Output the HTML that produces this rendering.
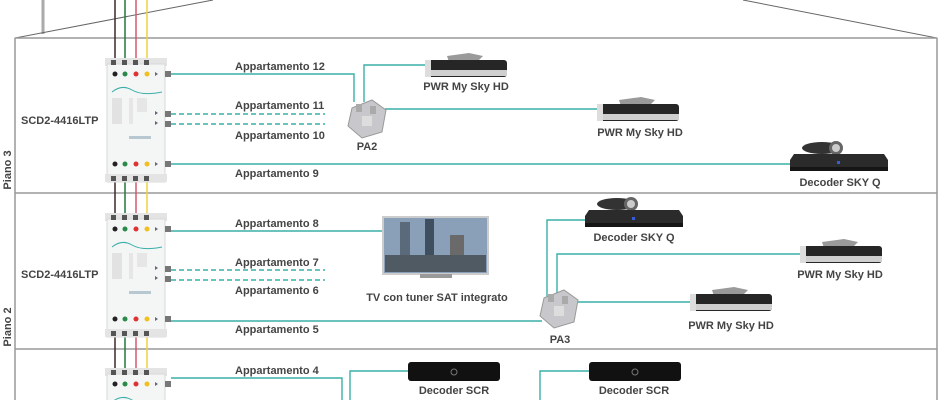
<!DOCTYPE html>
<html><head><meta charset="utf-8"><style>
html,body{margin:0;padding:0;background:#fff;width:940px;height:400px;overflow:hidden;}
svg{display:block;}
text{font-family:"Liberation Sans",sans-serif;font-weight:bold;font-size:11px;fill:#444;}
</style></head><body>
<svg width="940" height="400" viewBox="0 0 940 400" xmlns="http://www.w3.org/2000/svg">
<defs>
<g id="ms">
  <rect x="-2" y="0" width="62" height="8" fill="#e4e4e4"/>
  <rect x="0" y="6" width="58" height="118" fill="#f4f5f5" stroke="#d8d8d8"/>
  <rect x="4" y="2" width="5" height="5" fill="#555"/><rect x="15" y="2" width="5" height="5" fill="#555"/>
  <rect x="26" y="2" width="5" height="5" fill="#555"/><rect x="37" y="2" width="5" height="5" fill="#555"/>
  <circle cx="8" cy="16" r="2.5" fill="#222"/><circle cx="18" cy="16" r="2.5" fill="#2a8a4a"/>
  <circle cx="29" cy="16" r="2.5" fill="#d33"/><circle cx="40" cy="16" r="2.5" fill="#f0c020"/>
  <path d="M48 14l3 2-3 2z" fill="#667"/>
  <rect x="58" y="13" width="6" height="6" fill="#777"/>
  <path d="M5 34q10-8 20-2t30 2" stroke="#3aafa9" fill="none"/>
  <rect x="5" y="40" width="10" height="26" fill="#e2e2e2"/><rect x="22" y="40" width="4" height="26" fill="#e6e6e6"/>
  <rect x="30" y="40" width="10" height="14" fill="#e6e6e6"/>
  <rect x="22" y="78" width="22" height="3" fill="#b8c8d0"/>
  <path d="M48 53l3 2-3 2z M48 63l3 2-3 2z" fill="#667"/>
  <rect x="58" y="53" width="6" height="6" fill="#777"/><rect x="58" y="63" width="6" height="6" fill="#777"/>
  <circle cx="8" cy="106" r="2.5" fill="#222"/><circle cx="18" cy="106" r="2.5" fill="#2a8a4a"/>
  <circle cx="29" cy="106" r="2.5" fill="#d33"/><circle cx="40" cy="106" r="2.5" fill="#f0c020"/>
  <path d="M48 104l3 2-3 2z" fill="#667"/>
  <rect x="58" y="103" width="6" height="6" fill="#777"/>
  <rect x="-2" y="116" width="62" height="8" fill="#e4e4e4"/>
  <rect x="4" y="118" width="5" height="5" fill="#555"/><rect x="15" y="118" width="5" height="5" fill="#555"/>
  <rect x="26" y="118" width="5" height="5" fill="#555"/><rect x="37" y="118" width="5" height="5" fill="#555"/>
</g>
<g id="pwr">
  <path d="M22 4l22-3 14 3-6 6-28 0z" fill="#9a9a9a"/>
  <rect x="0" y="8" width="82" height="17" rx="3" fill="#262626"/>
  <rect x="0" y="18" width="82" height="6" fill="#cfcfcf"/>
  <rect x="0" y="8" width="6" height="17" fill="#ddd"/>
</g>
<g id="skyq">
  <ellipse cx="32" cy="8" rx="20" ry="6" fill="#333"/><circle cx="46" cy="8" r="7" fill="#666"/><circle cx="46" cy="8" r="4" fill="#ccc"/>
  <path d="M4 14h90l4 6v10H0V20z" fill="#2b2b2b"/><rect x="0" y="27" width="98" height="4" fill="#151515"/>
  <rect x="47" y="21" width="3" height="3" fill="#3a5cd8"/>
</g>
<g id="scr"><rect x="0" y="0" width="92" height="19" rx="3" fill="#111"/><circle cx="46" cy="10" r="3" fill="none" stroke="#777"/></g>
<g id="pa"><path d="M6 8l20-8 14 10-4 22-20 6-14-12z" fill="#c8c8cc" stroke="#999"/><rect x="10" y="4" width="6" height="8" fill="#aaa"/><rect x="24" y="6" width="6" height="8" fill="#aaa"/><rect x="16" y="16" width="10" height="10" fill="#ddd"/></g>
</defs>

<line x1="43" y1="0" x2="43" y2="34" stroke="#aaa" stroke-width="3"/>
<polyline points="213,0 15,38 15,400" fill="none" stroke="#666" stroke-width="1"/>
<polyline points="743,0 937,38 937,400" fill="none" stroke="#666" stroke-width="1"/>
<line x1="15" y1="38" x2="937" y2="38" stroke="#999" stroke-width="1.5"/>
<line x1="15" y1="193" x2="937" y2="193" stroke="#999" stroke-width="1.5"/>
<line x1="15" y1="349" x2="937" y2="349" stroke="#999" stroke-width="1.5"/>

<g stroke-width="1.5">
<line x1="115" y1="0" x2="115" y2="400" stroke="#3a2a2a"/>
<line x1="125" y1="0" x2="125" y2="400" stroke="#1f7a3f"/>
<line x1="136" y1="0" x2="136" y2="400" stroke="#d45a6a"/>
<line x1="147" y1="0" x2="147" y2="400" stroke="#f0d040"/>
</g>
<use href="#ms" x="107" y="58"/>
<use href="#ms" x="107" y="213"/>
<use href="#ms" x="107" y="368"/>

<text x="8" y="170" transform="rotate(-90 8 170)" text-anchor="middle" dominant-baseline="middle">Piano 3</text>
<text x="8" y="327" transform="rotate(-90 8 327)" text-anchor="middle" dominant-baseline="middle">Piano 2</text>
<text x="21" y="124">SCD2-4416LTP</text>
<text x="21" y="278">SCD2-4416LTP</text>

<g stroke="#3aafa9" stroke-width="1.4" fill="none">
<polyline points="171,74 354,74 354,102"/>
<polyline points="364,102 364,65 425,65"/>
<polyline points="385,109 597,109"/>
<polyline points="171,164 792,164"/>
<line x1="171" y1="114" x2="325" y2="114" stroke-dasharray="5,3"/>
<line x1="171" y1="124" x2="325" y2="124" stroke-dasharray="5,3"/>
<polyline points="171,231 383,231"/>
<line x1="171" y1="270" x2="325" y2="270" stroke-dasharray="5,3"/>
<line x1="171" y1="280" x2="325" y2="280" stroke-dasharray="5,3"/>
<polyline points="171,321 542,321"/>
<polyline points="547,300 547,220 585,220"/>
<polyline points="557,300 557,254 800,254"/>
<polyline points="570,302 690,302"/>
<polyline points="171,378 342,378 342,400"/>
<polyline points="350,400 350,371 408,371"/>
<polyline points="540,400 540,371 589,371"/>
</g>

<text x="235" y="70">Appartamento 12</text>
<text x="235" y="109">Appartamento 11</text>
<text x="235" y="139">Appartamento 10</text>
<text x="235" y="177">Appartamento 9</text>
<text x="235" y="227">Appartamento 8</text>
<text x="235" y="266">Appartamento 7</text>
<text x="235" y="294">Appartamento 6</text>
<text x="235" y="333">Appartamento 5</text>
<text x="235" y="374">Appartamento 4</text>

<use href="#pa" x="346" y="100"/>
<text x="367" y="150" text-anchor="middle">PA2</text>
<use href="#pwr" x="425" y="52"/>
<text x="466" y="90" text-anchor="middle">PWR My Sky HD</text>
<use href="#pwr" x="597" y="96"/>
<text x="640" y="136" text-anchor="middle">PWR My Sky HD</text>
<use href="#skyq" x="790" y="140"/>
<text x="840" y="186" text-anchor="middle">Decoder SKY Q</text>

<rect x="383" y="217" width="105" height="57" fill="#8aa0b8" stroke="#ccc" stroke-width="2"/>
<rect x="400" y="222" width="10" height="45" fill="#5a6a7a"/><rect x="425" y="219" width="9" height="50" fill="#3f4f5f"/>
<rect x="450" y="235" width="14" height="34" fill="#6a6a6a"/><rect x="385" y="255" width="101" height="17" fill="#4f5a62"/>
<rect x="420" y="274" width="32" height="4" fill="#999"/>
<text x="437" y="301" text-anchor="middle">TV con tuner SAT integrato</text>
<use href="#skyq" x="585" y="196"/>
<text x="634" y="241" text-anchor="middle">Decoder SKY Q</text>
<use href="#pwr" x="800" y="238"/>
<text x="840" y="278" text-anchor="middle">PWR My Sky HD</text>
<use href="#pwr" x="690" y="286"/>
<text x="731" y="329" text-anchor="middle">PWR My Sky HD</text>
<use href="#pa" x="538" y="290"/>
<text x="560" y="343" text-anchor="middle">PA3</text>

<use href="#scr" x="408" y="362"/>
<text x="454" y="394" text-anchor="middle">Decoder SCR</text>
<use href="#scr" x="589" y="362"/>
<text x="634" y="394" text-anchor="middle">Decoder SCR</text>
</svg>
</body></html>
